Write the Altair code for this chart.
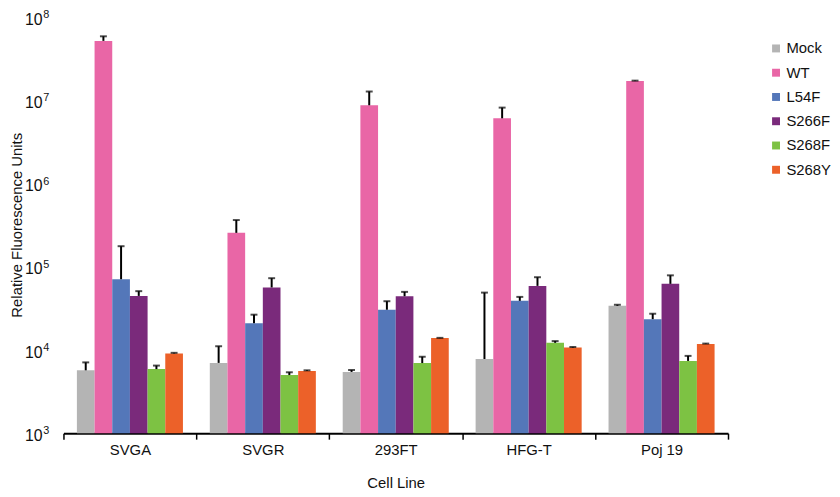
import altair as alt
import pandas as pd

cell_lines = ["SVGA", "SVGR", "293FT", "HFG-T", "Poj 19"]
series = ["Mock", "WT", "L54F", "S266F", "S268F", "S268Y"]
colors = ["#b4b4b4", "#e966a6", "#5477b9", "#7a2a7b", "#7dc243", "#ec6129"]

mock = [5700, 7000, 5450, 7800, 34000]
mock_err = [7100, 11100, 5750, 49000, 35000]
wt = [5.2e7, 2.56e5, 8.75e6, 6.1e6, 1.71e7]
wt_err = [5.9e7, 3.65e5, 1.28e7, 8.2e6, 1.73e7]
l54f = [71000, 21000, 30500, 39000, 23500]
l54f_err = [177000, 26600, 38600, 43500, 27300]
s266f = [44700, 56500, 44300, 59000, 62400]
s266f_err = [51000, 73000, 50000, 75000, 79000]
s268f = [5900, 5000, 6970, 12200, 7400]
s268f_err = [6500, 5400, 8300, 12800, 8500]
s268y = [9100, 5600, 13900, 10700, 11800]
s268y_err = [9250, 5700, 14000, 10900, 11950]

y_ticks = [1e3, 1e4, 1e5, 1e6, 1e7, 1e8]
y_exps = ["3", "4", "5", "6", "7", "8"]
y_title = "Relative Fluorescence Units"

values = [mock, wt, l54f, s266f, s268f, s268y]
errors = [mock_err, wt_err, l54f_err, s266f_err, s268f_err, s268y_err]

rows = []
for s, vals, errs in zip(series, values, errors):
    for c, v, e in zip(cell_lines, vals, errs):
        rows.append({"cell": c, "series": s, "value": v, "err": e, "base": 1000})
df = pd.DataFrame(rows)
ticks_df = pd.DataFrame({"v": y_ticks, "exp": y_exps})

FONT = "Liberation Sans"
W, H = 671, 420
yscale = alt.Scale(type="log", domain=[1000, 1e8], nice=False)

x_enc = alt.X(
    "cell:N", sort=cell_lines,
    scale=alt.Scale(paddingInner=0, paddingOuter=0),
    axis=alt.Axis(title="Cell Line", tickBand="extent", labelAngle=0,
                  labelFontSize=15, titleFontSize=15, titleFontWeight="normal",
                  labelColor="#111", titleColor="#111",
                  domainColor="#000", domainWidth=2, tickColor="#000",
                  tickWidth=1.5, tickSize=6, labelPadding=3, titlePadding=19,
                  grid=False, labelFont=FONT, titleFont=FONT),
)
xo_enc = alt.XOffset("series:N", sort=series,
                     scale=alt.Scale(paddingInner=0, paddingOuter=0.76))

bars = alt.Chart(df).mark_bar().encode(
    x=x_enc,
    xOffset=xo_enc,
    y=alt.Y("value:Q", scale=yscale,
            axis=alt.Axis(values=y_ticks, labels=False, grid=True,
                          gridColor="#a0a0a0", gridWidth=2,
                          domainColor="#000", domainWidth=2,
                          tickColor="#000", tickWidth=1.5, tickSize=7,
                          title=None)),
    y2="base:Q",
    color=alt.Color("series:N", sort=series,
                    scale=alt.Scale(domain=series, range=colors),
                    legend=alt.Legend(orient="none", legendX=712, legendY=24,
                                      title=None, symbolType="square",
                                      symbolSize=64, symbolStrokeWidth=0,
                                      labelFontSize=15, labelFont=FONT,
                                      labelColor="#111", rowPadding=8.5,
                                      padding=0, labelOffset=3)),
)

err_rule = alt.Chart(df).mark_rule(color="#000", strokeWidth=2).encode(
    x=alt.X("cell:N", sort=cell_lines),
    xOffset=alt.XOffset("series:N", sort=series),
    y=alt.Y("value:Q", scale=yscale),
    y2="err:Q",
)

err_cap = alt.Chart(df).mark_tick(color="#000", thickness=2, size=7,
                                  orient="horizontal").encode(
    x=alt.X("cell:N", sort=cell_lines),
    xOffset=alt.XOffset("series:N", sort=series),
    y=alt.Y("err:Q", scale=yscale),
)

lab10 = alt.Chart(ticks_df).mark_text(
    align="right", baseline="alphabetic", fontSize=16, dy=7.6,
    font=FONT, color="#111").encode(
    x=alt.value(-21),
    y=alt.Y("v:Q", scale=yscale, axis=None),
    text=alt.value("10"),
)
labexp = alt.Chart(ticks_df).mark_text(
    align="left", baseline="alphabetic", fontSize=11, dy=1,
    font=FONT, color="#111").encode(
    x=alt.value(-20.5),
    y=alt.Y("v:Q", scale=yscale, axis=None),
    text="exp:N",
)

ytitle = alt.Chart(pd.DataFrame({"t": [y_title]})).mark_text(
    angle=270, align="center", baseline="middle", fontSize=15,
    font=FONT, color="#111").encode(
    x=alt.value(-47),
    y=alt.value(H / 2),
    text="t:N",
)

chart = alt.layer(bars, err_rule, err_cap, lab10, labexp, ytitle).properties(
    width=W, height=H,
    autosize=alt.AutoSizeParams(type="none"),
    padding={"left": 56, "top": 7, "right": 105, "bottom": 55},
).configure(font=FONT).configure_view(stroke=None)

chart.save("out.html", embed_options={"renderer": "svg", "actions": False})
